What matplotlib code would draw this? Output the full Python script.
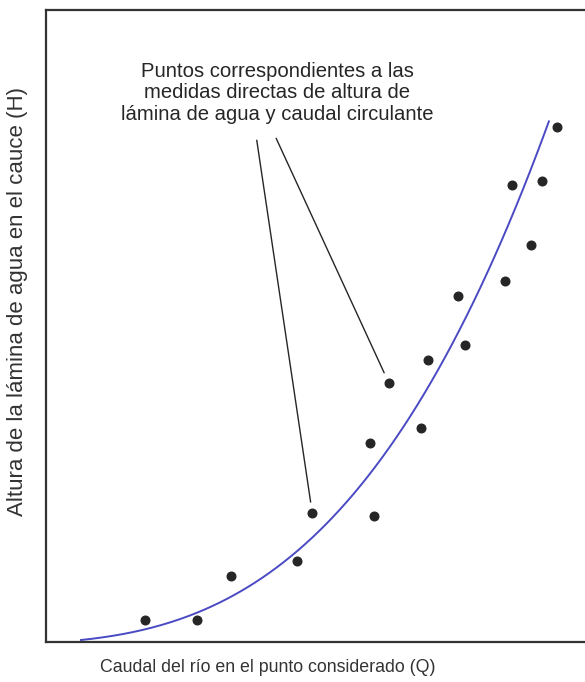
import numpy as np
import matplotlib
matplotlib.use('Agg')
import matplotlib.pyplot as plt

plt.rcParams['font.family'] = ['Liberation Sans', 'DejaVu Sans']

# measured stage / discharge pairs (arbitrary units)
Q = [18.4, 28.0, 34.3, 46.6, 49.4, 60.9, 60.1, 63.6, 69.6, 70.9,
     77.7, 76.4, 85.2, 90.0, 86.5, 92.0, 94.8]
H = [3.5, 3.5, 10.4, 12.8, 20.4, 19.9, 31.5, 41.0, 33.9, 44.6,
     47.0, 54.7, 57.1, 62.8, 72.3, 72.9, 81.5]

# samples taken along the rating curve
curve_Q = [6.5, 28.0, 34.3, 46.6, 48.6, 60.1, 69.6, 76.4, 80.5, 87.6, 93.3]
curve_H = [0.3, 4.7, 7.1, 14.1, 16.1, 27.5, 36.7, 49.4, 56.5, 69.9, 82.1]

note = ("Puntos correspondientes a las\n"
        "medidas directas de altura de\n"
        "lámina de agua y caudal circulante")
xlabel = "Caudal del río en el punto considerado (Q)"
ylabel = "Altura de la lámina de agua en el cauce (H)"

fig = plt.figure(figsize=(5.85, 6.82), dpi=100)
ax = fig.add_axes([46/585, 40/682, 1 - 46/585, 632/682])
ax.set_xlim(0, 100)
ax.set_ylim(0, 100)

# smooth rating curve fitted through the samples
coef = np.polyfit(curve_Q, curve_H, 3)
qq = np.linspace(curve_Q[0], curve_Q[-1], 200)
ax.plot(qq, np.polyval(coef, qq), color='#4a4ac4', lw=1.4, zorder=2)

ax.plot(Q, H, 'o', color='#262626', ms=6.2, zorder=3)

# leader lines from the note to two of the points
for i, start in [(4, (39.1, 79.4)), (7, (42.7, 79.7))]:
    ax.annotate('', xy=(Q[i], H[i]), xytext=start,
                arrowprops=dict(arrowstyle='-', color='#262626', lw=1.0,
                                shrinkA=0, shrinkB=8))

ax.text(42.9, 86.9, note, ha='center', va='center', fontsize=14.6,
        color='#262626', linespacing=1.15)

for s in ['left', 'bottom', 'top']:
    ax.spines[s].set_linewidth(1.6)
    ax.spines[s].set_color('#333333')
ax.spines['right'].set_visible(False)
ax.set_xticks([])
ax.set_yticks([])

fig.text(268/585, 1 - 667/682, xlabel, ha='center', va='center',
         fontsize=12.8, color='#333333')
fig.text(18/585, 1 - 302/682, ylabel, ha='center', va='center',
         rotation=90, fontsize=16, color='#333333')

fig.savefig('out.png', dpi=100)
